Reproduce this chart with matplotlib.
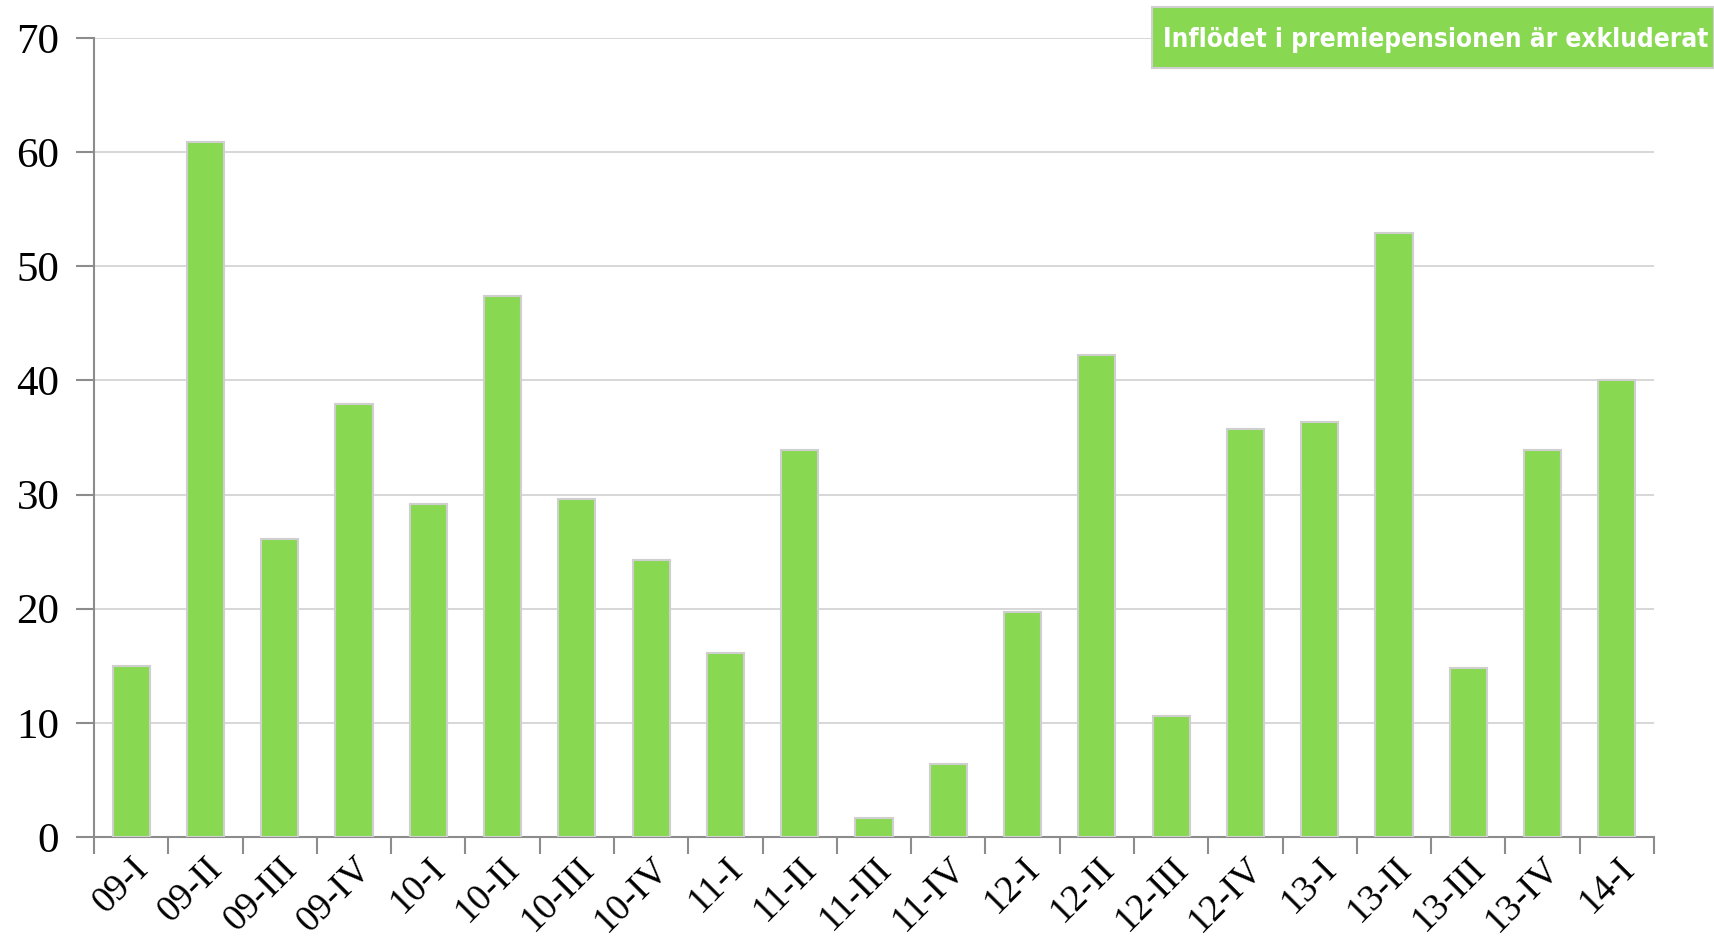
import matplotlib.pyplot as plt
import numpy as np
from matplotlib.patches import Rectangle
from matplotlib.transforms import Affine2D

# quarterly values
quarters = ["09-I", "09-II", "09-III", "09-IV", "10-I", "10-II", "10-III",
            "10-IV", "11-I", "11-II", "11-III", "11-IV", "12-I", "12-II",
            "12-III", "12-IV", "13-I", "13-II", "13-III", "13-IV", "14-I"]
values = [15.0, 60.9, 26.1, 37.9, 29.2, 47.4, 29.6, 24.3, 16.1, 33.9, 1.7,
          6.4, 19.7, 42.2, 10.6, 35.7, 36.4, 52.9, 14.8, 33.9, 40.0]
yticks = [0, 10, 20, 30, 40, 50, 60, 70]
note = "Inflödet i premiepensionen är exkluderat"

green = "#88d852"
axis_grey = "#8c8c8c"
W, H = 1715, 936

fig = plt.figure(figsize=(W / 100, H / 100), dpi=100)
ax = fig.add_axes([0.0548, 0.1058, 0.9096, 0.8536])

x = np.arange(len(quarters))
ax.bar(x, values, width=0.5, color=green, edgecolor="#cfcfcf", linewidth=1.5,
       zorder=3)

ax.set_xlim(-0.5, len(quarters) - 0.5)
ax.set_ylim(0, 70)
ax.set_yticks(yticks)
ax.set_yticklabels([str(t) for t in yticks], family="Liberation Serif",
                   fontsize=31)
ax.yaxis.grid(True, color="#d4d4d4", linewidth=1.3, zorder=0)
ax.tick_params(axis="y", length=13, width=1.5, color=axis_grey, pad=12)

# labels at category centres, tick marks at category boundaries
ax.set_xticks(x)
ax.set_xticklabels(quarters, rotation=45, ha="right", rotation_mode="anchor",
                   family="Liberation Serif", fontsize=27)
ax.tick_params(axis="x", which="major", length=0, pad=10)
ax.set_xticks(np.arange(len(quarters) + 1) - 0.5, minor=True)
ax.tick_params(axis="x", which="minor", length=12, width=1.5, color=axis_grey)

for s in ["top", "right"]:
    ax.spines[s].set_visible(False)
for s in ["left", "bottom"]:
    ax.spines[s].set_color(axis_grey)
    ax.spines[s].set_linewidth(1.5)

# note box in the top right corner (pixel units, y from the bottom)
px = Affine2D().scale(1 / W, 1 / H) + fig.transFigure
fig.add_artist(Rectangle((1152, 868), 562, 61, facecolor=green,
                         edgecolor="#d0d0d0", linewidth=1.5, transform=px))
fig.text(1708, 889, note, transform=px, ha="right", va="baseline",
         color="white", family="DejaVu Sans", fontstretch="condensed",
         fontweight="bold", fontsize=18.8)

fig.savefig("out.png", dpi=100)
